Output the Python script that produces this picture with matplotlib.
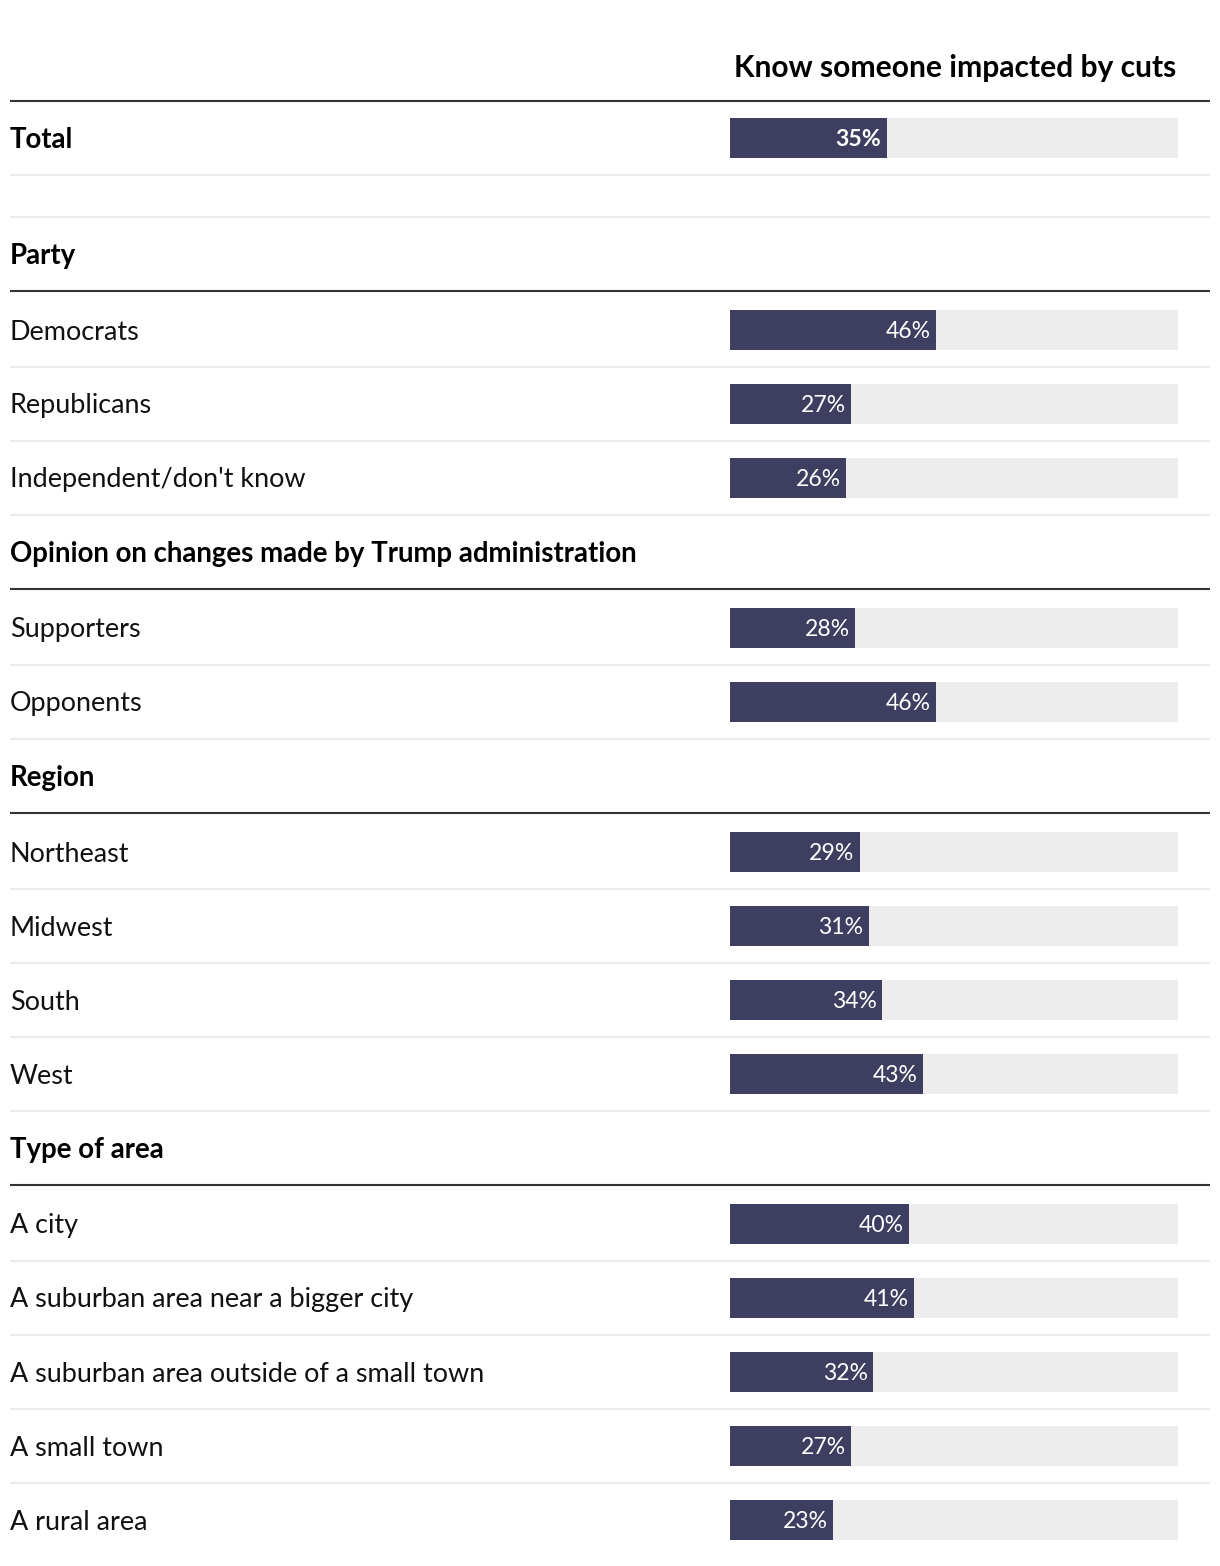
import matplotlib
matplotlib.use("Agg")
import matplotlib.pyplot as plt

# ---- data ----
title = "Know someone impacted by cuts"
total_label = "Total"
total_value = 35

party_labels = ["Democrats", "Republicans", "Independent/don't know"]
party_values = [46, 27, 26]

opinion_labels = ["Supporters", "Opponents"]
opinion_values = [28, 46]

region_labels = ["Northeast", "Midwest", "South", "West"]
region_values = [29, 31, 34, 43]

area_labels = ["A city", "A suburban area near a bigger city",
               "A suburban area outside of a small town", "A small town", "A rural area"]
area_values = [40, 41, 32, 27, 23]

group_names = ["Party", "Opinion on changes made by Trump administration", "Region", "Type of area"]
group_labels = [party_labels, opinion_labels, region_labels, area_labels]
group_values = [party_values, opinion_values, region_values, area_values]

# ---- style ----
FONT = "Lato"
BAR = "#3e3f60"
TRACK = "#ededed"
DARK = "#333333"
LIGHT = "#ebebeb"
W, H = 1220, 1566
px = 0.72  # px -> pt at 100 dpi

fig = plt.figure(figsize=(W / 100, H / 100), dpi=100)
ax = fig.add_axes([0, 0, 1, 1])
ax.set_xlim(0, W)
ax.set_ylim(H, 0)
ax.axis("off")

bx0, bx1 = 730, 1178
axb = fig.add_axes([bx0 / W, 0, (bx1 - bx0) / W, 1])
axb.set_xlim(0, 100)
axb.set_ylim(H, 0)
axb.axis("off")

LX0, LX1 = 10, 1210
label_fs = 27 * px
head_fs = 27.6 * px
bar_fs = 23 * px
BAR_H = 40
DY = 2  # text vertical nudge

def hline(y, color, lw):
    ax.plot([LX0, LX1], [y, y], color=color, lw=lw, solid_capstyle="butt")

def bar(yc, v, bold=False):
    axb.barh([yc], [100], height=BAR_H, color=TRACK, linewidth=0)
    axb.barh([yc], [v], height=BAR_H, color=BAR, linewidth=0)
    axb.text(v - 1.2, yc + DY, f"{v}%", ha="right", va="center", color="white",
             fontsize=bar_fs, family=FONT, fontweight="bold" if bold else "normal")

# title
ax.text(1176, 66 + DY, title, ha="right", va="center", fontsize=30 * px,
        family=FONT, fontweight="bold", color="black")
hline(101, DARK, 1.5)

# total
y = 101
yc = y + 37
ax.text(LX0, yc + DY, total_label, ha="left", va="center", fontsize=head_fs,
        family=FONT, fontweight="bold", color="black")
bar(yc, total_value, bold=True)
y = yc + 37
hline(y, LIGHT, 1.5)
y += 42
hline(y, LIGHT, 1.5)

for gi, (gname, labs, vals) in enumerate(zip(group_names, group_labels, group_values)):
    hc = y + 37
    ax.text(LX0, hc + DY, gname, ha="left", va="center", fontsize=head_fs,
            family=FONT, fontweight="bold", color="black")
    y = hc + 37
    hline(y, DARK, 1.5)
    first = True
    for i, (lab, v) in enumerate(zip(labs, vals)):
        yc = y + (39 if first else 37)
        first = False
        ax.text(LX0, yc + DY, lab, ha="left", va="center", fontsize=label_fs,
                family=FONT, color="#111111")
        bar(yc, v)
        y = yc + 37
        last = (gi == len(group_names) - 1) and (i == len(labs) - 1)
        if not last:
            hline(y, LIGHT, 1.5)

fig.savefig("out.png", dpi=100, facecolor="white")
